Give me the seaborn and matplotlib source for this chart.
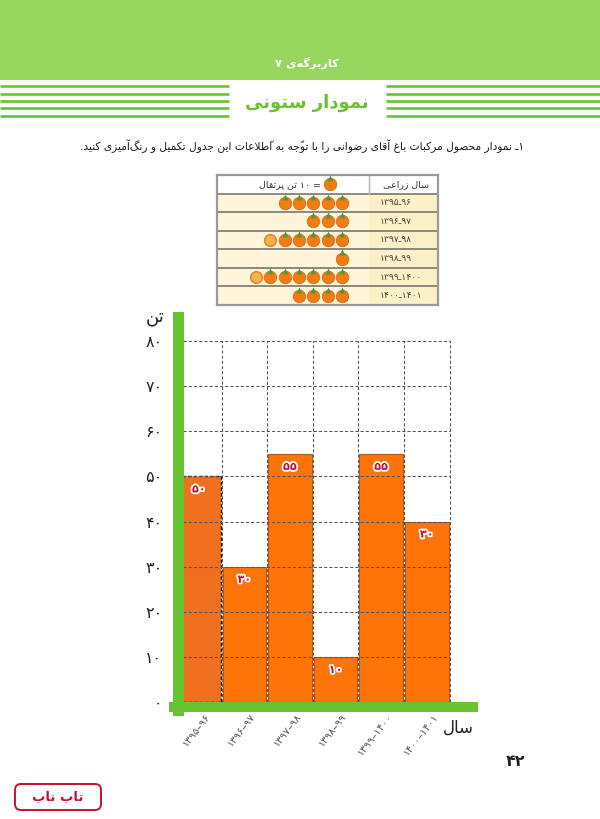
import re
import matplotlib
matplotlib.use("Agg")
import matplotlib.pyplot as plt
import matplotlib.patheffects as pe
import matplotlib.transforms as mtrans
from matplotlib.patches import FancyBboxPatch, Rectangle
from matplotlib.ticker import FixedLocator
import pandas as pd
import seaborn as sns

# chart data
years = ["۱۳۹۵–۹۶", "۱۳۹۶–۹۷", "۱۳۹۷–۹۸", "۱۳۹۸–۹۹", "۱۳۹۹–۱۴۰۰", "۱۴۰۰–۱۴۰۱"]
tons = [50, 30, 55, 10, 55, 40]
value_labels = ["۵۰", "۳۰", "۵۵", "۱۰", "۵۵", "۳۰"]  # last one really reads 30 on the page
y_ticks = [0, 10, 20, 30, 40, 50, 60, 70, 80]
y_tick_labels = ["۰", "۱۰", "۲۰", "۳۰", "۴۰", "۵۰", "۶۰", "۷۰", "۸۰"]
table_years = ["۱۳۹۵ـ۹۶", "۱۳۹۶ـ۹۷", "۱۳۹۷ـ۹۸", "۱۳۹۸ـ۹۹", "۱۳۹۹ـ۱۴۰۰", "۱۴۰۰ـ۱۴۰۱"]
oranges = [5, 3, 5.5, 1, 6.5, 4]

GREEN = "#68C232"
LIGHT_GREEN = "#97D760"
ORANGE = "#FF7409"
CRIMSON = "#C8102E"

# the fonts here do no Arabic shaping, so pick the presentation forms by hand
# letter: (isolated, final, initial, medial)
two = lambda c: (c, c + 1, None, None)
four = lambda c: (c, c + 1, c + 2, c + 3)
FORMS = {
    "آ": two(0xFE81), "ا": two(0xFE8D), "ب": four(0xFE8F), "پ": four(0xFB56),
    "ت": four(0xFE95), "ج": four(0xFE9D), "ح": four(0xFEA1), "د": two(0xFEA9),
    "ر": two(0xFEAD), "ز": two(0xFEAF), "س": four(0xFEB1), "ص": four(0xFEB9),
    "ض": four(0xFEBD), "ط": four(0xFEC1), "ظ": four(0xFEC5), "ع": four(0xFEC9),
    "غ": four(0xFECD), "ق": four(0xFED5), "ک": four(0xFB8E), "گ": four(0xFB92),
    "ل": four(0xFEDD), "م": four(0xFEE1), "ن": four(0xFEE5), "و": two(0xFEED),
    "ه": four(0xFEE9), "ی": four(0xFBFC),
}
LAM_ALEF = {"ا": (0xFEFB, 0xFEFC), "آ": (0xFEF5, 0xFEF6)}


def fa(text):
    """Shape Persian text and put it in visual order for matplotlib."""
    base = []
    for ch in text:
        if ch == "\u0651" and base:
            base[-1][1] += ch
        else:
            base.append([ch, ""])
    out = []
    i = 0
    prev_joins = False
    while i < len(base):
        ch, mark = base[i]
        nxt = base[i + 1][0] if i + 1 < len(base) else ""
        if ch == "ل" and nxt in LAM_ALEF:
            out.append(chr(LAM_ALEF[nxt][1 if prev_joins else 0]))
            prev_joins = False
            i += 2
            continue
        if ch in FORMS:
            iso, fin, ini, med = FORMS[ch]
            next_joins = nxt in FORMS or nxt == "ـ"
            if ini is None:
                glyph = fin if prev_joins else iso
                prev_joins = False
            else:
                if prev_joins:
                    glyph = med if next_joins else fin
                else:
                    glyph = ini if next_joins else iso
                prev_joins = next_joins
            out.append(mark + chr(glyph))
        elif ch == "\u200c":
            prev_joins = False
        else:
            out.append(mark + ch)
            prev_joins = ch == "ـ"
        i += 1
    visual = "".join(out)[::-1]
    return re.sub("[۰-۹]+", lambda m: m.group(0)[::-1], visual)


W, H = 600, 819
sns.set_theme(style="white")
plt.rcParams["font.family"] = ["DejaVu Sans"]


def px_axes(fig, x0, y0, x1, y1, **kw):
    """Axes placed with pixel corners, y measured from the top of the page."""
    return fig.add_axes([x0 / W, 1 - y1 / H, (x1 - x0) / W, (y1 - y0) / H], **kw)


fig = plt.figure(figsize=(W / 100, H / 100), dpi=100, facecolor="white")

# page decoration, in pixel coordinates
page = px_axes(fig, 0, 0, W, H, zorder=0)
page.set_xlim(0, W)
page.set_ylim(H, 0)
page.axis("off")
page.add_patch(Rectangle((0, 0), W, 80, color=LIGHT_GREEN, lw=0))
for yy in [86, 94, 101, 108, 116]:
    page.plot([0, 229], [yy, yy], color=GREEN, lw=1.9, solid_capstyle="butt")
    page.plot([386, W], [yy, yy], color=GREEN, lw=1.9, solid_capstyle="butt")
page.text(307, 63, fa("کاربرگه‌ی ۷"), color="white", fontsize=8.2, fontweight="bold",
          ha="center", va="center")
page.text(307, 103, fa("نمودار ستونی"), color=GREEN, fontsize=13, fontweight="bold",
          ha="center", va="center")
page.text(302, 146, fa("۱ـ نمودار محصول مرکبات باغ آقای رضوانی را با توجّه به اطّلاعات این جدول تکمیل و رنگ‌آمیزی کنید."),
          color="#1a1a1a", fontsize=7.7, ha="center", va="center")
page.text(516, 762, fa("۴۲"), color="#222222", fontsize=11.5, fontweight="bold",
          ha="center", va="center")
page.add_patch(FancyBboxPatch((19, 788), 78, 18, boxstyle="round,pad=4,rounding_size=6",
                              fc="white", ec=CRIMSON, lw=1.4))
page.text(58, 797, fa("تاب ناب"), color=CRIMSON, fontsize=9.5, fontweight="bold",
          ha="center", va="center")

# pictograph table
tbl = px_axes(fig, 217, 175, 438, 305, zorder=1)
STEP = 14.33
tbl.set_xlim((342 - 217) / STEP, (342 - 438) / STEP)
tbl.set_ylim(len(years) + 0.5, -0.5)
split = (342 - 369) / STEP
tbl.axhspan(0.5, len(years) + 0.5, color="#FEF5DA", lw=0, zorder=0)
tbl.axhspan(0.5, len(years) + 0.5, xmin=(369 - 217) / 221, color="#FCF0C6", lw=0, zorder=0)
for r in range(len(years)):
    tbl.axhline(r + 0.5, color="#6b6b6b", lw=1.1, zorder=1)
tbl.plot([split, split], [-0.5, 0.5], color="#b5b5b5", lw=1, zorder=1)
for s in tbl.spines.values():
    s.set_color("#9a9a9a")
    s.set_linewidth(1.6)
    s.set_visible(True)
tbl.set_xticks([])
tbl.set_yticks([])

whole = []
halves = []
for r, n in enumerate(oranges, start=1):
    for i in range(int(n)):
        whole.append({"x": i, "y": r})
    if n != int(n):
        halves.append({"x": int(n), "y": r})
whole.append({"x": 0.85, "y": 0})
whole = pd.DataFrame(whole)
halves = pd.DataFrame(halves)
sns.scatterplot(data=whole, x="x", y="y", ax=tbl, s=82, color="#F27C12",
                edgecolor="#DB6410", linewidth=0.5, zorder=3, legend=False)
sns.scatterplot(data=whole.assign(y=whole["y"] - 0.33), x="x", y="y", ax=tbl, s=18,
                marker="^", color="#4E9A3B", linewidth=0, zorder=4, legend=False)
sns.scatterplot(data=halves, x="x", y="y", ax=tbl, s=70, color="#F6B24C",
                edgecolor="#EE7F1B", linewidth=1.1, zorder=3, legend=False)
tbl.set_xlabel("")
tbl.set_ylabel("")
for r, label in enumerate(table_years, start=1):
    tbl.text(split - 0.75, r, label, fontsize=6.6, color="#444444", ha="left", va="center")
tbl.text(split - 2.55, 0, fa("سال زراعی"), fontsize=6.8, color="#333333", ha="center", va="center")
tbl.text(3.6, 0, fa("= ۱۰ تن پرتقال"), fontsize=6.8, color="#333333", ha="center", va="center")

# bar chart
ax = px_axes(fig, 183.3, 341, 449.5, 702, zorder=2)
ax.patch.set_alpha(0)
df = pd.DataFrame({"year": years, "tons": tons})
bar_colors = ["#F07020"] + [ORANGE] * (len(years) - 1)
sns.barplot(data=df, x="year", y="tons", hue="year", palette=bar_colors, dodge=False,
            width=0.96, saturation=1, edgecolor="#B9571E", linewidth=0.8, legend=False, ax=ax)
ax.set_xlim(-0.34, len(years) - 0.5)
ax.set_ylim(y_ticks[0], y_ticks[-1])
ax.set_xlabel("")
ax.set_ylabel("")
sns.despine(ax=ax, left=True, bottom=True)

first = ax.containers[0][0]
first.set_edgecolor("#111111")
first.set_linestyle((0, (2.5, 1.5)))
first.set_linewidth(1.0)

for container, label in zip(ax.containers, value_labels):
    ax.bar_label(container, labels=[label], padding=-13, color=CRIMSON, fontsize=8,
                 fontweight="bold",
                 path_effects=[pe.withStroke(linewidth=2.6, foreground="white")], zorder=6)

ax.set_yticks(y_ticks)
ax.set_yticklabels(y_tick_labels)
ax.xaxis.set_minor_locator(FixedLocator([i + 0.5 for i in range(len(years))]))
ax.set_axisbelow(False)
ax.grid(False)
ax.grid(axis="y", which="major", color="#555555", lw=0.75, linestyle=(0, (3, 2)), clip_on=False)
ax.grid(axis="x", which="minor", color="#555555", lw=0.75, linestyle=(0, (3, 2)), clip_on=False)
ax.tick_params(axis="y", length=0, pad=15, labelsize=11.5, labelcolor="#222222")
ax.tick_params(axis="x", which="both", length=0, pad=9, labelsize=7.5, labelcolor="#555555")
shift = mtrans.ScaledTranslation(9 / 100, 0, fig.dpi_scale_trans)
for lab in ax.get_xticklabels():
    lab.set_rotation(52)
    lab.set_ha("right")
    lab.set_va("center")
    lab.set_rotation_mode("anchor")
    lab.set_transform(lab.get_transform() + shift)

# green axes arrows sit above the plot
over = px_axes(fig, 0, 0, W, H, zorder=3)
over.set_xlim(0, W)
over.set_ylim(H, 0)
over.axis("off")
over.add_patch(Rectangle((173, 312), 10.5, 404, color=GREEN, lw=0))
over.add_patch(Rectangle((169, 702), 309, 10, color=GREEN, lw=0))
over.text(155, 317, fa("تن"), fontsize=13, color="#222222", ha="center", va="center")
over.text(458, 728, fa("سال"), fontsize=12, color="#222222", ha="center", va="center")

fig.savefig("out.png", dpi=100)
